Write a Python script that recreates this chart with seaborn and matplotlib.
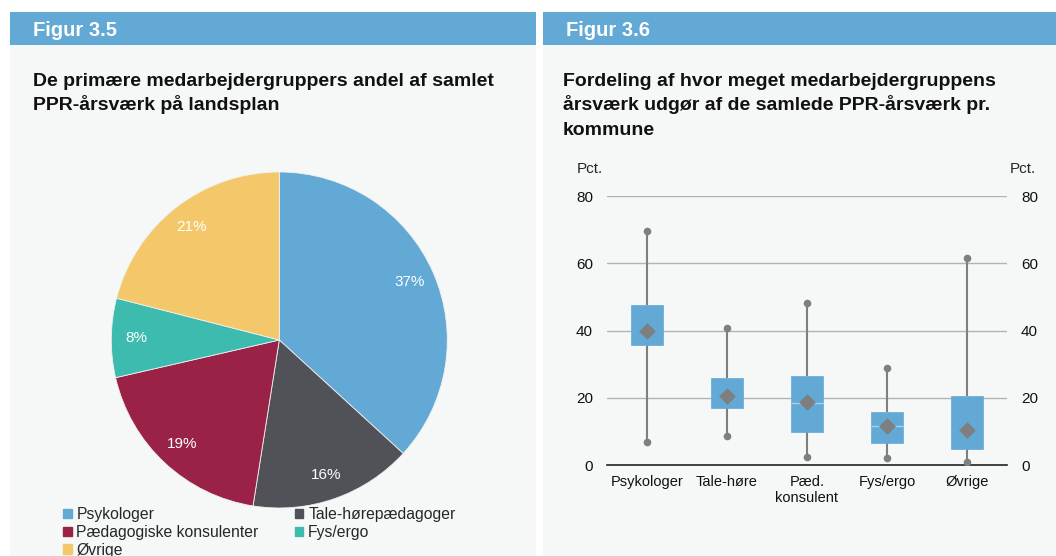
import numpy as np
import pandas as pd
import matplotlib
matplotlib.use("Agg")
import matplotlib.pyplot as plt
import matplotlib.patches as mpatches
import seaborn as sns

# --- data ---
pie_labels = ["Psykologer", "Tale-hørepædagoger", "Pædagogiske konsulenter", "Fys/ergo", "Øvrige"]
pie_shares = [36.8, 15.7, 18.9, 7.6, 21.0]
pie_colors = ["#62a9d5", "#515257", "#9a2247", "#3dbbae", "#f4c86a"]

box_groups = ["Psykologer", "Tale-høre", "Pæd.\nkonsulent", "Fys/ergo", "Øvrige"]
box_min = [6.8, 8.7, 2.5, 2.3, 1.1]
box_q1 = [35.7, 16.9, 10.0, 6.5, 4.7]
box_median = [40.0, 20.7, 18.6, 11.6, 10.5]
box_q3 = [47.5, 26.0, 26.5, 15.7, 20.5]
box_max = [69.5, 40.9, 48.2, 28.8, 61.5]
box_mean = [39.9, 20.7, 18.7, 11.6, 10.5]
median_shown = [False, False, True, True, False]   # only these show a median line in the original
y_ticks = [0, 20, 40, 60, 80]

left_title = ["De primære medarbejdergruppers andel af samlet", "PPR-årsværk på landsplan"]
right_title = ["Fordeling af hvor meget medarbejdergruppens", "årsværk udgør af de samlede PPR-årsværk pr.", "kommune"]

BLUE = "#62a9d5"
PANEL = "#f6f8f8"
GREY = "#7f7f7f"

sns.set_theme(style="white")
plt.rcParams["font.family"] = ["Liberation Sans", "DejaVu Sans"]

fig = plt.figure(figsize=(10.56, 5.56), dpi=100)
W, H = 1056, 556


def fx(px):
    return px / W


def fy(py):
    return 1 - py / H


# panel backgrounds and header bars
for x0, x1, head in [(10, 536, "Figur 3.5"), (543, 1056, "Figur 3.6")]:
    fig.patches.append(mpatches.Rectangle((fx(x0), 0), fx(x1 - x0), fy(45), transform=fig.transFigure,
                                          facecolor=PANEL, edgecolor="none", zorder=-5))
    fig.patches.append(mpatches.Rectangle((fx(x0), fy(45)), fx(x1 - x0), (45 - 12) / H, transform=fig.transFigure,
                                          facecolor=BLUE, edgecolor="none", zorder=-5))
    fig.text(fx(x0 + 23), fy(30.5), head, color="white", fontsize=14.5, fontweight="bold", va="center")

for x0, lines in [(33, left_title), (563, right_title)]:
    for i, line in enumerate(lines):
        fig.text(fx(x0), fy(85.5 + 24.8 * i), line, fontsize=14, fontweight="bold",
                 va="baseline", color="#111111")

# --- pie ---
ax_pie = fig.add_axes([fx(279.3 - 168), fy(340 + 168), fx(336), 336 / H])
ax_pie.pie(pie_shares, colors=pie_colors, startangle=90, counterclock=False,
           autopct="%.0f%%", pctdistance=0.85, radius=1,
           wedgeprops=dict(edgecolor="#f0f0f0", linewidth=0.6),
           textprops=dict(color="white", fontsize=11))
ax_pie.set_xlim(-1, 1)
ax_pie.set_ylim(-1, 1)
ax_pie.set_aspect("equal")
ax_pie.axis("off")

handles = [mpatches.Patch(color=c, label=l) for c, l in zip(pie_colors, pie_labels)]
order = [0, 2, 4, 1, 3]
fig.legend([handles[i] for i in order], [pie_labels[i] for i in order],
           loc="upper left", bbox_to_anchor=(fx(63), fy(507)), ncol=2, frameon=False,
           fontsize=11.3, handlelength=0.55, handleheight=0.55, handletextpad=0.3,
           columnspacing=2.3, labelspacing=0.18, borderaxespad=0, borderpad=0)

# --- box plot ---
ax = fig.add_axes([fx(607), fy(465.3), fx(400), (465.3 - 196) / H])
ax.set_facecolor("none")

rows = []
for g, a, b, c, d, e in zip(box_groups, box_min, box_q1, box_median, box_q3, box_max):
    for v in (a, b, c, d, e):
        rows.append({"group": g, "value": v})
df = pd.DataFrame(rows)

for yv in y_ticks[1:]:
    ax.axhline(yv, color="#b3b3b3", linewidth=1, zorder=0)

sns.boxplot(data=df, x="group", y="value", order=box_groups, ax=ax, whis=(0, 100), width=0.4,
            color=BLUE, linecolor=GREY, linewidth=1.5, showcaps=False, showfliers=False,
            boxprops=dict(facecolor=BLUE, edgecolor=BLUE, linewidth=0.5, zorder=3),
            whiskerprops=dict(color=GREY, linewidth=1.5, zorder=2),
            medianprops=dict(visible=False))

med = pd.DataFrame({"group": box_groups, "value": box_median, "shown": median_shown})
sns.stripplot(data=med[med["shown"]], x="group", y="value", order=box_groups, ax=ax, jitter=False,
              color="#a9d1ec", marker="_", size=23, linewidth=1, zorder=4)

ends = pd.DataFrame({"group": box_groups * 2, "value": box_min + box_max})
sns.stripplot(data=ends, x="group", y="value", order=box_groups, ax=ax, jitter=False,
              color=GREY, size=5.5, zorder=5)
means = pd.DataFrame({"group": box_groups, "value": box_mean})
sns.stripplot(data=means, x="group", y="value", order=box_groups, ax=ax, jitter=False,
              color=GREY, marker="D", size=8.5, zorder=6)

ax.set_xlim(-0.5, len(box_groups) - 0.5)
ax.set_ylim(0, 80)
ax.set_yticks(y_ticks)
ax.set_xlabel("")
ax.set_ylabel("")
for s in ["top", "right", "left"]:
    ax.spines[s].set_visible(False)
ax.spines["bottom"].set_color("#222222")
ax.spines["bottom"].set_linewidth(1.2)
ax.tick_params(axis="y", length=0, pad=10, labelsize=11, colors="#111111")
ax.tick_params(axis="x", which="major", length=0, pad=7, labelsize=10.5, colors="#111111")
ax.set_xticks(np.arange(len(box_groups) + 1) - 0.5, minor=True)
ax.tick_params(axis="x", which="minor", length=4, width=1, color="#222222", direction="out")

ax2 = ax.twinx()
ax2.set_ylim(0, 80)
ax2.set_yticks(y_ticks)
for s in ax2.spines.values():
    s.set_visible(False)
ax2.tick_params(axis="y", length=0, pad=10, labelsize=11, colors="#111111")
ax2.grid(False)

fig.text(fx(590), fy(169), "Pct.", fontsize=11, ha="center", va="center")
fig.text(fx(1023), fy(169), "Pct.", fontsize=11, ha="center", va="center")

fig.savefig("out.png", dpi=100)
